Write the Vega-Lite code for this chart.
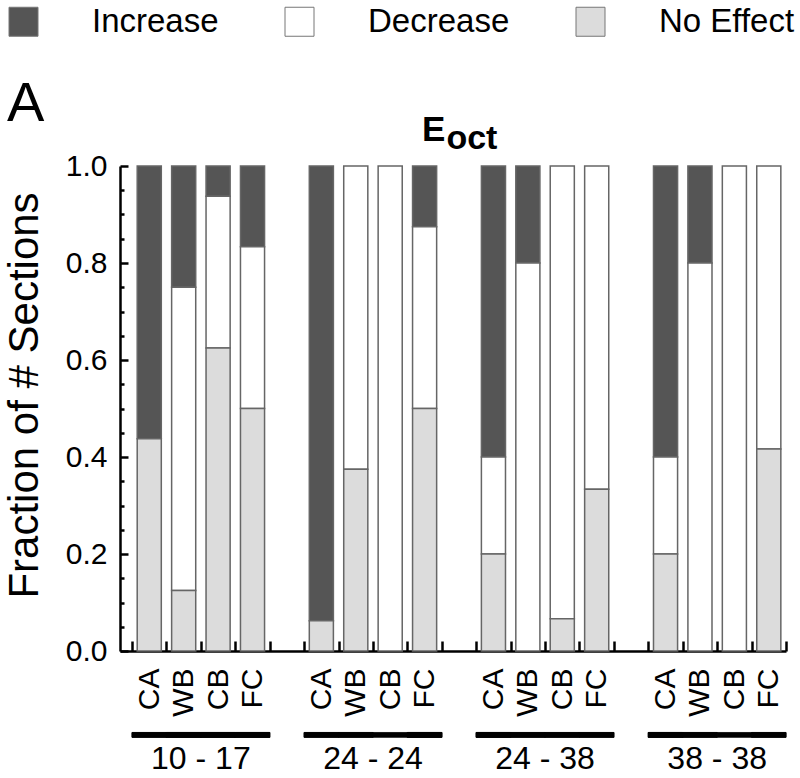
{
  "$schema": "https://vega.github.io/schema/vega-lite/v6.json",
  "background": "white",
  "autosize": {"type": "none"},
  "padding": {"left": 120, "top": 166, "right": 14, "bottom": 127},
  "width": 666,
  "height": 485,
  "config": {
    "font": "Liberation Sans",
    "view": {"stroke": null},
    "axis": {"labelColor": "black", "titleColor": "black", "domainColor": "black", "tickColor": "black", "grid": false},
    "legend": {"labelColor": "black", "titleColor": "black"},
    "title": {"color": "black", "subtitleColor": "black"}
  },
  "title": {
    "text": "E\u00a0\u00a0\u00a0\u00a0\u200b",
    "subtitle": "\u200b\u00a0\u00a0\u00a0\u00a0oct",
    "frame": "group",
    "anchor": "middle",
    "fontSize": 35,
    "fontWeight": "bold",
    "subtitleFontSize": 34,
    "subtitleFontWeight": "bold",
    "subtitlePadding": -26,
    "offset": -151
  },
  "resolve": {"axis": {"x": "independent", "y": "independent"}},
  "datasets": {
    "effects": [
      {"effect": "No Effect", "stack": 1},
      {"effect": "Decrease", "stack": 2},
      {"effect": "Increase", "stack": 3}
    ],
    "sections": [
      {"bar": "10 - 17 CA", "group": "10 - 17", "region": "CA", "effect": "Increase", "fraction": 0.5625},
      {"bar": "10 - 17 CA", "group": "10 - 17", "region": "CA", "effect": "No Effect", "fraction": 0.4375},
      {"bar": "10 - 17 WB", "group": "10 - 17", "region": "WB", "effect": "Increase", "fraction": 0.25},
      {"bar": "10 - 17 WB", "group": "10 - 17", "region": "WB", "effect": "Decrease", "fraction": 0.625},
      {"bar": "10 - 17 WB", "group": "10 - 17", "region": "WB", "effect": "No Effect", "fraction": 0.125},
      {"bar": "10 - 17 CB", "group": "10 - 17", "region": "CB", "effect": "Increase", "fraction": 0.0625},
      {"bar": "10 - 17 CB", "group": "10 - 17", "region": "CB", "effect": "Decrease", "fraction": 0.3125},
      {"bar": "10 - 17 CB", "group": "10 - 17", "region": "CB", "effect": "No Effect", "fraction": 0.625},
      {"bar": "10 - 17 FC", "group": "10 - 17", "region": "FC", "effect": "Increase", "fraction": 0.1667},
      {"bar": "10 - 17 FC", "group": "10 - 17", "region": "FC", "effect": "Decrease", "fraction": 0.3333},
      {"bar": "10 - 17 FC", "group": "10 - 17", "region": "FC", "effect": "No Effect", "fraction": 0.5},
      {"bar": "24 - 24 CA", "group": "24 - 24", "region": "CA", "effect": "Increase", "fraction": 0.9375},
      {"bar": "24 - 24 CA", "group": "24 - 24", "region": "CA", "effect": "No Effect", "fraction": 0.0625},
      {"bar": "24 - 24 WB", "group": "24 - 24", "region": "WB", "effect": "Decrease", "fraction": 0.625},
      {"bar": "24 - 24 WB", "group": "24 - 24", "region": "WB", "effect": "No Effect", "fraction": 0.375},
      {"bar": "24 - 24 CB", "group": "24 - 24", "region": "CB", "effect": "Decrease", "fraction": 1.0},
      {"bar": "24 - 24 FC", "group": "24 - 24", "region": "FC", "effect": "Increase", "fraction": 0.125},
      {"bar": "24 - 24 FC", "group": "24 - 24", "region": "FC", "effect": "Decrease", "fraction": 0.375},
      {"bar": "24 - 24 FC", "group": "24 - 24", "region": "FC", "effect": "No Effect", "fraction": 0.5},
      {"bar": "24 - 38 CA", "group": "24 - 38", "region": "CA", "effect": "Increase", "fraction": 0.6},
      {"bar": "24 - 38 CA", "group": "24 - 38", "region": "CA", "effect": "Decrease", "fraction": 0.2},
      {"bar": "24 - 38 CA", "group": "24 - 38", "region": "CA", "effect": "No Effect", "fraction": 0.2},
      {"bar": "24 - 38 WB", "group": "24 - 38", "region": "WB", "effect": "Increase", "fraction": 0.2},
      {"bar": "24 - 38 WB", "group": "24 - 38", "region": "WB", "effect": "Decrease", "fraction": 0.8},
      {"bar": "24 - 38 CB", "group": "24 - 38", "region": "CB", "effect": "Decrease", "fraction": 0.9333},
      {"bar": "24 - 38 CB", "group": "24 - 38", "region": "CB", "effect": "No Effect", "fraction": 0.0667},
      {"bar": "24 - 38 FC", "group": "24 - 38", "region": "FC", "effect": "Decrease", "fraction": 0.6667},
      {"bar": "24 - 38 FC", "group": "24 - 38", "region": "FC", "effect": "No Effect", "fraction": 0.3333},
      {"bar": "38 - 38 CA", "group": "38 - 38", "region": "CA", "effect": "Increase", "fraction": 0.6},
      {"bar": "38 - 38 CA", "group": "38 - 38", "region": "CA", "effect": "Decrease", "fraction": 0.2},
      {"bar": "38 - 38 CA", "group": "38 - 38", "region": "CA", "effect": "No Effect", "fraction": 0.2},
      {"bar": "38 - 38 WB", "group": "38 - 38", "region": "WB", "effect": "Increase", "fraction": 0.2},
      {"bar": "38 - 38 WB", "group": "38 - 38", "region": "WB", "effect": "Decrease", "fraction": 0.8},
      {"bar": "38 - 38 CB", "group": "38 - 38", "region": "CB", "effect": "Decrease", "fraction": 1.0},
      {"bar": "38 - 38 FC", "group": "38 - 38", "region": "FC", "effect": "Decrease", "fraction": 0.5833},
      {"bar": "38 - 38 FC", "group": "38 - 38", "region": "FC", "effect": "No Effect", "fraction": 0.4167}
    ],
    "groups": [
      {"group": "10 - 17", "mid": "10 - 17 CB"},
      {"group": "24 - 24", "mid": "24 - 24 CB"},
      {"group": "24 - 38", "mid": "24 - 38 CB"},
      {"group": "38 - 38", "mid": "38 - 38 CB"}
    ]
  },
  "layer": [
    {
      "data": {"name": "sections"},
      "transform": [
        {"lookup": "effect", "from": {"data": {"name": "effects"}, "key": "effect", "fields": ["stack"]}}
      ],
      "mark": {"type": "bar", "width": {"band": 0.7}, "stroke": "#666666", "strokeWidth": 1.5},
      "encoding": {
        "x": {
          "field": "bar",
          "type": "nominal",
          "scale": {
            "domain": ["10 - 17 CA", "10 - 17 WB", "10 - 17 CB", "10 - 17 FC", "g1  ",
                       "24 - 24 CA", "24 - 24 WB", "24 - 24 CB", "24 - 24 FC", "g2  ",
                       "24 - 38 CA", "24 - 38 WB", "24 - 38 CB", "24 - 38 FC", "g3  ",
                       "38 - 38 CA", "38 - 38 WB", "38 - 38 CB", "38 - 38 FC"],
            "paddingInner": 0,
            "paddingOuter": 0.175,
            "align": 1
          },
          "axis": {
            "orient": "bottom",
            "title": null,
            "labelExpr": "isString(datum.value) ? slice(datum.value, -2) : ''",
            "labelAngle": -90,
            "labelFontSize": 30,
            "labelPadding": 27,
            "labelOverlap": false,
            "tickBand": "extent",
            "tickSize": -10,
            "tickWidth": 2.5,
            "domainWidth": 2.5
          }
        },
        "y": {
          "field": "fraction",
          "type": "quantitative",
          "stack": "zero",
          "scale": {"domain": [0, 1], "nice": false},
          "axis": {
            "orient": "left",
            "title": "Fraction of # Sections",
            "titleFontSize": 42,
            "titleFontWeight": "normal",
            "titlePadding": 19,
            "titleY": 229,
            "values": [0, 0.05, 0.1, 0.15, 0.2, 0.25, 0.3, 0.35, 0.4, 0.45, 0.5, 0.55, 0.6, 0.65, 0.7, 0.75, 0.8, 0.85, 0.9, 0.95, 1],
            "labelExpr": "abs(datum.value * 5 - round(datum.value * 5)) < 0.001 ? format(datum.value, '.1f') : ''",
            "tickSize": -8,
            "tickDash": {"condition": {"test": "abs(datum.value * 5 - round(datum.value * 5)) < 0.001", "value": []}, "value": [4, 40]},
            "tickWidth": 2.5,
            "domainWidth": 2.5,
            "labelFontSize": 30,
            "labelPadding": 21
          }
        },
        "order": {"field": "stack", "type": "quantitative"},
        "color": {
          "field": "effect",
          "type": "nominal",
          "sort": ["Increase", "Decrease", "No Effect"],
          "scale": {"range": ["#555555", "#ffffff", "#dcdcdc"]},
          "legend": {
            "orient": "none",
            "legendX": -113,
            "legendY": -161,
            "direction": "horizontal",
            "title": "A",
            "titleOrient": "bottom",
            "titleAnchor": "start",
            "titleFontSize": 56,
            "titleFontWeight": "normal",
            "titlePadding": 38,
            "symbolType": "square",
            "symbolSize": 841,
            "symbolStrokeColor": "#777777",
            "symbolStrokeWidth": 1,
            "symbolOpacity": 1,
            "labelFontSize": 33,
            "labelOffset": 52,
            "columnPadding": 64
          }
        }
      }
    },
    {
      "data": {"name": "sections"},
      "mark": {"type": "bar", "color": "black", "stroke": "black", "strokeWidth": 0.8},
      "encoding": {
        "x": {
          "field": "bar",
          "type": "nominal",
          "scale": {
            "domain": ["10 - 17 CA", "10 - 17 WB", "10 - 17 CB", "10 - 17 FC", "g1  ",
                       "24 - 24 CA", "24 - 24 WB", "24 - 24 CB", "24 - 24 FC", "g2  ",
                       "24 - 38 CA", "24 - 38 WB", "24 - 38 CB", "24 - 38 FC", "g3  ",
                       "38 - 38 CA", "38 - 38 WB", "38 - 38 CB", "38 - 38 FC"],
            "paddingInner": 0,
            "paddingOuter": 0.175,
            "align": 1
          },
          "axis": null
        },
        "y": {"datum": -0.168, "type": "quantitative", "axis": null},
        "y2": {"datum": -0.178}
      }
    },
    {
      "data": {"name": "groups"},
      "mark": {"type": "text", "fontSize": 32, "color": "black", "baseline": "middle", "align": "center"},
      "encoding": {
        "x": {
          "field": "mid",
          "type": "nominal",
          "bandPosition": 0,
          "scale": {
            "domain": ["10 - 17 CA", "10 - 17 WB", "10 - 17 CB", "10 - 17 FC", "g1  ",
                       "24 - 24 CA", "24 - 24 WB", "24 - 24 CB", "24 - 24 FC", "g2  ",
                       "24 - 38 CA", "24 - 38 WB", "24 - 38 CB", "24 - 38 FC", "g3  ",
                       "38 - 38 CA", "38 - 38 WB", "38 - 38 CB", "38 - 38 FC"],
            "paddingInner": 0,
            "paddingOuter": 0.175,
            "align": 1
          },
          "axis": null
        },
        "y": {"datum": -0.222, "type": "quantitative", "axis": null},
        "text": {"field": "group", "type": "nominal"}
      }
    }
  ]
}
